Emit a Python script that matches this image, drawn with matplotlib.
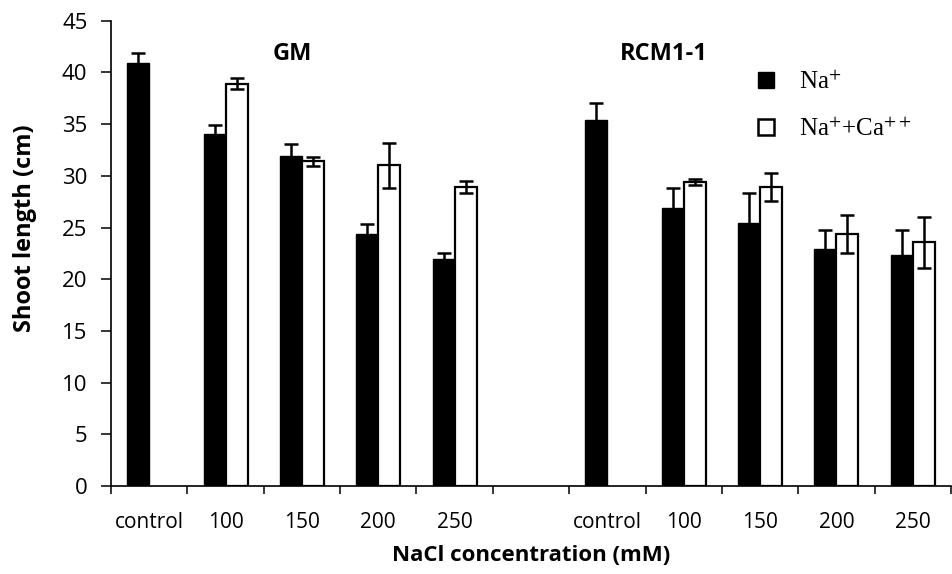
import numpy as np
import matplotlib
matplotlib.use("Agg")
import matplotlib.pyplot as plt
from matplotlib.lines import Line2D

plt.rcParams['font.family'] = ['Open Sans', 'DejaVu Sans']
plt.rcParams['mathtext.fontset'] = 'stix'

categories = ['control', '100', '150', '200', '250', '',
              'control', '100', '150', '200', '250']
nan = np.nan
na_mean = [40.9, 34.0, 31.9, 24.4, 21.95, nan, 35.4, 26.9, 25.4, 22.9, 22.3]
na_err = [1.0, 0.9, 1.2, 0.9, 0.6, nan, 1.6, 1.9, 2.9, 1.9, 2.5]
ca_mean = [nan, 38.9, 31.4, 31.0, 28.9, nan, nan, 29.4, 28.95, 24.4, 23.55]
ca_err = [nan, 0.55, 0.45, 2.2, 0.6, nan, nan, 0.3, 1.35, 1.85, 2.45]
group_names = ['GM', 'RCM1-1']
group_pos = [(1.87, 41.8), (6.74, 41.8)]

x = np.arange(len(categories))
w = 0.288

fig = plt.figure(figsize=(9.52, 5.74), dpi=100)
ax = fig.add_axes([111 / 952, 1 - 486 / 574, 840 / 952, 465.3 / 574])

na = np.array(na_mean)
ca = np.array(ca_mean)
m1 = ~np.isnan(na)
m2 = ~np.isnan(ca)

ax.bar(x[m1] - w / 2, na[m1], w, color='black', edgecolor='black', linewidth=1, zorder=2)
ax.bar(x[m2] + w / 2, ca[m2], w, color='white', edgecolor='black', linewidth=1.6, zorder=2)
ax.errorbar(x[m1] - w / 2, na[m1], yerr=np.array(na_err)[m1], fmt='none',
            ecolor='black', elinewidth=1.8, capsize=5, capthick=1.8, zorder=3)
ax.errorbar(x[m2] + w / 2, ca[m2], yerr=np.array(ca_err)[m2], fmt='none',
            ecolor='black', elinewidth=1.8, capsize=5, capthick=1.8, zorder=3)

ax.set_xlim(-0.5, len(categories) - 0.5)
ax.set_ylim(0, 45)
ax.set_yticks(np.arange(0, 46, 5))
ax.set_xticks(np.arange(-0.5, len(categories), 1))
ax.set_xticklabels([])
ax.set_xticks(x, minor=True)
ax.set_xticklabels(categories, minor=True, fontsize=15)
ax.tick_params(axis='x', which='major', direction='out', length=6, width=1.1)
ax.tick_params(axis='x', which='minor', length=0, pad=19)
ax.tick_params(axis='y', direction='out', length=7, width=1.1, labelsize=16, pad=10)

for s in ['top', 'right']:
    ax.spines[s].set_visible(False)
for s in ['left', 'bottom']:
    ax.spines[s].set_linewidth(1.2)

ax.set_ylabel('Shoot length (cm)', fontsize=17, fontweight='bold')
ax.yaxis.set_label_coords(-0.088, 0.554)
ax.set_xlabel('NaCl concentration (mM)', fontsize=16, fontweight='bold')
ax.xaxis.set_label_coords(0.5, -0.126)

for name, (gx, gy) in zip(group_names, group_pos):
    ax.text(gx, gy, name, fontsize=17, fontweight='bold', ha='center', va='center')

handles = [
    Line2D([], [], marker='s', linestyle='none', markersize=11,
           markerfacecolor='black', markeredgecolor='black'),
    Line2D([], [], marker='s', linestyle='none', markersize=11,
           markerfacecolor='white', markeredgecolor='black', markeredgewidth=1.8),
]
labels = [r'Na$^{+}$', r'Na$^{+}$+Ca$^{++}$']
ax.legend(handles, labels, loc='center left', bbox_to_anchor=(0.765, 0.818),
          frameon=False, borderpad=0, borderaxespad=0, handlelength=1.0,
          handletextpad=0.8, labelspacing=0.95,
          prop={'family': 'Liberation Serif', 'size': 18})

fig.savefig('out.png', dpi=100)
